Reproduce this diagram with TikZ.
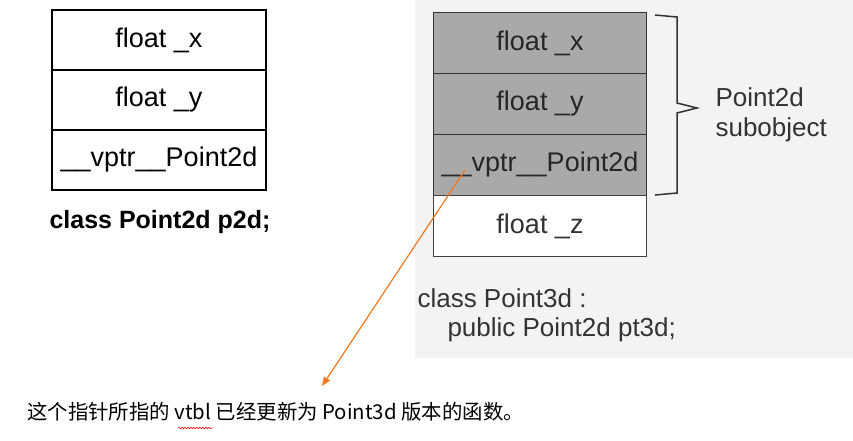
\documentclass[tikz,border=0pt]{standalone}
\usepackage{fontspec}
\setmainfont{Liberation Sans}
\newfontfamily\cjk{Noto Sans CJK SC}
\usetikzlibrary{decorations.pathmorphing,arrows.meta}
\definecolor{bgg}{HTML}{F3F3F3}
\definecolor{cellg}{HTML}{A9A9A9}
\definecolor{arr}{HTML}{F07820}
\begin{document}
\begin{tikzpicture}[x=1pt,y=-1pt,
  cell/.style={draw,line width=1.6pt,minimum width=214pt,minimum height=60pt,font=\fontsize{27}{29}\selectfont,inner sep=0pt},
  gcell/.style={cell,fill=cellg,draw=black!80,text=black!85},
  lab/.style={font=\fontsize{26}{29}\selectfont,anchor=west,text=black!80}]
\useasboundingbox (0,0) rectangle (853,440);
\fill[bgg] (415,0) rectangle (853,358);
% left
\node[cell] (lx) at (159,40) {float \_x};
\node[cell] (ly) at (159,100) {float \_y};
\node[cell] (lv) at (159,160) {\_\_vptr\_\_Point2d};
\node[font=\fontsize{25}{28}\selectfont\bfseries] (lc) at (160,222) {class Point2d p2d;};
% right
\node[gcell,minimum width=213pt,minimum height=61pt] (rx) at (540,43) {float \_x};
\node[gcell,minimum width=213pt,minimum height=61pt] (ry) at (540,104) {float \_y};
\node[gcell,minimum width=213pt,minimum height=61pt] (rv) at (540,165) {\_\_vptr\_\_Point2d};
\node[cell,fill=white,draw=black!75,text=black!80,minimum width=213pt,minimum height=61pt] (rz) at (540,226) {float \_z};
\draw[line width=1.5pt,black!80] (655,15) -- (677,17) -- (677,103) -- (697,108) -- (677,113) -- (677,193) -- (655,195);
\node[lab] (sub) at (712,97) {Point2d};
\node[lab] (sub2) at (712,130) {subobject};
\node[lab] (c3) at (414,298) {class Point3d :};
\node[lab] (c3b) at (444,330) {public Point2d pt3d;};
\coordinate (vp) at (465,170);
\node[font=\cjk\fontsize{20.4}{22}\selectfont,anchor=west,inner sep=0pt] (cn) at (27,412)
  {这个指针所指的 vtbl 已经更新为 Point3d 版本的函数。};
\coordinate (tip) at (322,386);
\draw[arr,line width=1.2pt,-{Triangle[length=9pt,width=7pt]}] (vp) -- (tip);
\draw[red,line width=0.6pt,decorate,decoration={snake,amplitude=0.8pt,segment length=3pt}] (178,428) -- (212,428);
\end{tikzpicture}
\end{document}
